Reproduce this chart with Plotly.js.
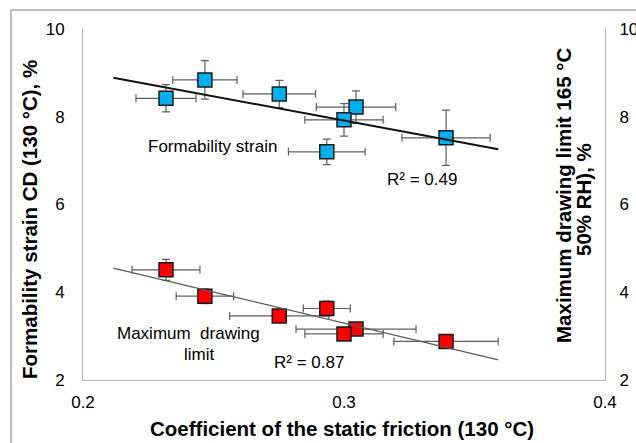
<!DOCTYPE html>
<html>
<head>
<meta charset="utf-8">
<script src="https://cdn.plot.ly/plotly-3.0.1.min.js"></script>
<style>html,body{margin:0;padding:0;background:#fff;}#chart{width:636px;height:443px;}</style>
</head>
<body>
<div id="chart"></div>
<script>
// Coefficient of static friction (130 °C)
var frictionX = [0.2318, 0.2467, 0.2752, 0.3046, 0.3000, 0.2934, 0.3391];
// Formability strain CD (130 °C), %
var formStrain = [8.42, 8.84, 8.52, 8.22, 7.93, 7.20, 7.52];
var formStrainErr = [0.31, 0.44, 0.31, 0.37, 0.37, 0.29, 0.63];
var formFrictionErr = [0.0115, 0.0123, 0.0139, 0.0152, 0.0150, 0.0147, 0.0169];
// Maximum drawing limit 165 °C (50% RH), %
var drawLimit = [4.51, 3.91, 3.46, 3.16, 3.05, 3.63, 2.88];
var drawLimitErr = [0.24, 0.17, 0.15, 0.12, 0.10, 0.17, 0.10];
var drawFrictionErr = [0.013, 0.011, 0.019, 0.023, 0.015, 0.009, 0.020];
// Trendlines (linear, Excel-style with forecast)
var trendX = [0.2116, 0.3591];
var formTrendY = [8.89, 7.26];
var drawTrendY = [4.55, 2.46];
var xTicks = [0.2, 0.3, 0.4];
var yTicks = [2, 4, 6, 8, 10];

var FONT = 'Liberation Sans, Arial, sans-serif';
var errColor = '#5e5e5e';

var traces = [
  {
    x: frictionX, y: formStrain, type: 'scatter', mode: 'markers',
    marker: {symbol: 'square', size: 14, color: '#00B0F0', line: {color: '#1a1a1a', width: 1.5}},
    error_y: {type: 'data', array: formStrainErr, visible: true, color: errColor, thickness: 1.2, width: 4},
    error_x: {type: 'data', array: formFrictionErr, visible: true, color: errColor, thickness: 1.2, width: 4},
    xaxis: 'x', yaxis: 'y', hoverinfo: 'skip'
  },
  {
    x: trendX, y: formTrendY, type: 'scatter', mode: 'lines',
    line: {color: '#111111', width: 2}, xaxis: 'x', yaxis: 'y', hoverinfo: 'skip'
  },
  {
    x: frictionX, y: drawLimit, type: 'scatter', mode: 'markers',
    marker: {symbol: 'square', size: 14, color: '#FF0000', line: {color: '#1a1a1a', width: 1.5}},
    error_y: {type: 'data', array: drawLimitErr, visible: true, color: errColor, thickness: 1.2, width: 4},
    error_x: {type: 'data', array: drawFrictionErr, visible: true, color: errColor, thickness: 1.2, width: 4},
    xaxis: 'x', yaxis: 'y2', hoverinfo: 'skip'
  },
  {
    x: trendX, y: drawTrendY, type: 'scatter', mode: 'lines',
    line: {color: '#5a5a5a', width: 1.2}, xaxis: 'x', yaxis: 'y2', hoverinfo: 'skip'
  }
];

function px2x(p) { return (p - 83) / 522; }
function px2y(p) { return (380 - p) / 351; }

function note(xref, yref, x, y, text, size, angle) {
  return {xref: xref, yref: yref, x: x, y: y, text: text, showarrow: false,
          xanchor: 'center', yanchor: 'middle', textangle: angle || 0,
          font: {family: FONT, size: size, color: '#000'}};
}

var layout = {
  width: 636, height: 443,
  margin: {l: 83, r: 31, t: 29, b: 63, pad: 0},
  paper_bgcolor: '#ffffff', plot_bgcolor: '#ffffff',
  showlegend: false,
  font: {family: FONT, size: 17, color: '#000000'},
  xaxis: {
    range: [0.2, 0.4], tickvals: xTicks, ticktext: xTicks.map(function(v){return v.toFixed(1);}),
    showgrid: false, zeroline: false, showline: true, linecolor: '#b7b7b7', linewidth: 1,
    ticks: '', ticklabelstandoff: 7, tickfont: {family: FONT, size: 17, color: '#000'}
  },
  yaxis: {
    range: [2, 10], tickvals: yTicks, showgrid: false, zeroline: false,
    showline: true, linecolor: '#b7b7b7', linewidth: 1, ticks: '', ticklabelstandoff: 14,
    tickfont: {family: FONT, size: 17, color: '#000'}
  },
  yaxis2: {
    range: [2, 10], tickvals: yTicks, overlaying: 'y', side: 'right', showgrid: false, zeroline: false,
    showline: true, linecolor: '#b7b7b7', linewidth: 1, ticks: '', ticklabelstandoff: 10,
    tickfont: {family: FONT, size: 17, color: '#000'}
  },
  shapes: [
    {type: 'rect', xref: 'paper', yref: 'paper', x0: px2x(11), x1: px2x(700), y0: px2y(500), y1: px2y(10),
     line: {color: '#a8a8a8', width: 1.5}, fillcolor: 'rgba(0,0,0,0)', layer: 'below'}
  ],
  annotations: [
    note('x', 'y', 0.2498, 7.33, 'Formability strain', 17),
    note('x', 'y', 0.3299, 6.58, 'R² = 0.49', 17),
    note('x', 'y', 0.2406, 3.05, 'Maximum\u00a0 drawing', 17),
    note('x', 'y', 0.2444, 2.59, 'limit', 17),
    note('x', 'y', 0.2866, 2.41, 'R² = 0.87', 17),
    note('paper', 'paper', px2x(342), px2y(428), '<b>Coefficient of the static friction (130 °C)</b>', 20.5),
    note('paper', 'paper', px2x(29), px2y(220), '<b>Formability strain CD (130 °C), %</b>', 20.5, -90),
    note('paper', 'paper', px2x(563), px2y(196), '<b>Maximum drawing limit 165 °C</b>', 20.5, -90),
    note('paper', 'paper', px2x(583), px2y(200), '<b>50% RH), %</b>', 20.5, -90)
  ]
};

Plotly.newPlot('chart', traces, layout, {staticPlot: true, displayModeBar: false});
</script>
</body>
</html>
